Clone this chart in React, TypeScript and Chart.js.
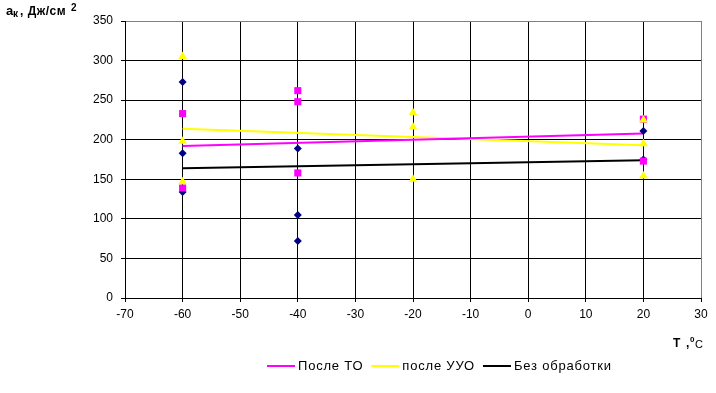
import React, { useEffect, useRef } from 'react';
import { Chart, registerables } from 'chart.js';

Chart.register(...registerables);

const FONT = '"Liberation Sans", Arial, Helvetica, sans-serif';

// После ТО (magenta squares)
const toX = [-60, -60, -40, -40, -40, 20, 20];
const toY = [233, 139, 262, 248, 158, 226, 173];
// после УУО (yellow triangles)
const uuoX = [-60, -60, -60, -20, -20, -20, 20, 20, 20];
const uuoY = [305, 198, 147, 234, 216, 150, 225, 195, 154];
// Без обработки (navy diamonds)
const noneX = [-60, -60, -60, -40, -40, -40, 20, 20];
const noneY = [273, 183, 134, 189, 105, 72, 211, 175];

// trend lines (endpoints)
const trendX = [-60, 20];
const trendTO = [192, 208];
const trendUUO = [214, 193];
const trendNone = [164, 174];

const legendLabels = ['После ТО', 'после УУО', 'Без обработки'];
const legendColors = ['#FF00FF', '#FFFF00', '#000000'];

const toPts = (xs: number[], ys: number[]) => xs.map((x, i) => ({ x, y: ys[i] }));

const overlay = {
  id: 'overlay',
  afterDraw(chart: any) {
    const ctx = chart.ctx as any;
    ctx.save();
    ctx.fillStyle = '#000';
    ctx.textBaseline = 'alphabetic';
    ctx.textAlign = 'left';
    // Y title
    ctx.letterSpacing = '0.5px';
    ctx.font = `bold 13px ${FONT}`;
    ctx.fillText('a', 6, 15);
    ctx.font = `bold 10px ${FONT}`;
    ctx.fillText('к', 13, 17);
    ctx.font = `bold 12px ${FONT}`;
    ctx.fillText(', Дж/см', 20, 15);
    ctx.font = `bold 10px ${FONT}`;
    ctx.fillText('2', 71, 11);
    ctx.letterSpacing = '0px';
    // X title
    ctx.font = `bold 12px ${FONT}`;
    ctx.fillText('T', 673, 347);
    ctx.fillText(',', 686, 347);
    ctx.font = `bold 8px ${FONT}`;
    ctx.fillText('0', 690, 342);
    ctx.font = `11px ${FONT}`;
    ctx.fillText('C', 695, 348);
    // Legend
    ctx.font = `13px ${FONT}`;
    ctx.letterSpacing = '0.8px';
    ctx.textBaseline = 'middle';
    let lx = 267;
    const ly = 366;
    legendLabels.forEach((lab, i) => {
      ctx.strokeStyle = legendColors[i];
      ctx.lineWidth = 2;
      ctx.beginPath();
      ctx.moveTo(lx, ly);
      ctx.lineTo(lx + 28, ly);
      ctx.stroke();
      ctx.fillText(lab, lx + 31, ly);
      lx += 31 + ctx.measureText(lab).width + 8;
    });
    ctx.restore();
  },
};

export default function App() {
  const ref = useRef<HTMLCanvasElement | null>(null);
  useEffect(() => {
    document.body.style.margin = '0';
    if (!ref.current) return;
    const chart = new Chart(ref.current, {
      type: 'scatter',
      data: {
        datasets: [
          {
            label: 'после УУО точки',
            data: toPts(uuoX, uuoY),
            pointStyle: 'triangle',
            pointRadius: 5,
            backgroundColor: '#FFFF00',
            borderColor: '#FFFF00',
            borderWidth: 0,
            showLine: false,
          },
          {
            label: 'После ТО точки',
            data: toPts(toX, toY),
            pointStyle: 'rect',
            pointRadius: 5,
            backgroundColor: '#FF00FF',
            borderColor: '#FF00FF',
            borderWidth: 0,
            showLine: false,
          },
          {
            label: 'Без обработки точки',
            data: toPts(noneX, noneY),
            pointStyle: 'rectRot',
            pointRadius: 4,
            backgroundColor: '#000080',
            borderColor: '#000080',
            borderWidth: 0,
            showLine: false,
          },
          {
            label: legendLabels[0],
            data: toPts(trendX, trendTO),
            showLine: true,
            borderColor: '#FF00FF',
            borderWidth: 2,
            pointRadius: 0,
          },
          {
            label: legendLabels[1],
            data: toPts(trendX, trendUUO),
            showLine: true,
            borderColor: '#FFFF00',
            borderWidth: 2,
            pointRadius: 0,
          },
          {
            label: legendLabels[2],
            data: toPts(trendX, trendNone),
            showLine: true,
            borderColor: '#000000',
            borderWidth: 2,
            pointRadius: 0,
          },
        ],
      },
      options: {
        animation: false,
        responsive: false,
        maintainAspectRatio: false,
        layout: { padding: { left: 0, right: 15, top: 21, bottom: 0 } },
        plugins: { legend: { display: false }, tooltip: { enabled: false } },
        scales: {
          x: {
            type: 'linear',
            min: -70,
            max: 30,
            ticks: { stepSize: 10, color: '#000', font: { family: FONT, size: 12 }, padding: 5, maxRotation: 0 },
            grid: {
              color: (c: any) => (c.tick && c.tick.value === 30 ? '#808080' : '#000'),
              tickColor: '#000',
              tickLength: 4,
              lineWidth: 1,
            },
            border: { color: '#000' },
            afterFit: (s: any) => {
              s.height = 95;
            },
          },
          y: {
            type: 'linear',
            min: 0,
            max: 350,
            ticks: { stepSize: 50, color: '#000', font: { family: FONT, size: 12 }, padding: 8 },
            grid: {
              color: (c: any) => (c.tick && c.tick.value === 350 ? '#808080' : '#000'),
              tickColor: '#000',
              tickLength: 4,
              lineWidth: 1,
            },
            border: { color: '#000' },
            afterFit: (s: any) => {
              s.width = 125;
            },
          },
        },
      },
      plugins: [overlay],
    });
    return () => chart.destroy();
  }, []);
  return <canvas ref={ref} width={716} height={393} style={{ display: 'block' }} />;
}
